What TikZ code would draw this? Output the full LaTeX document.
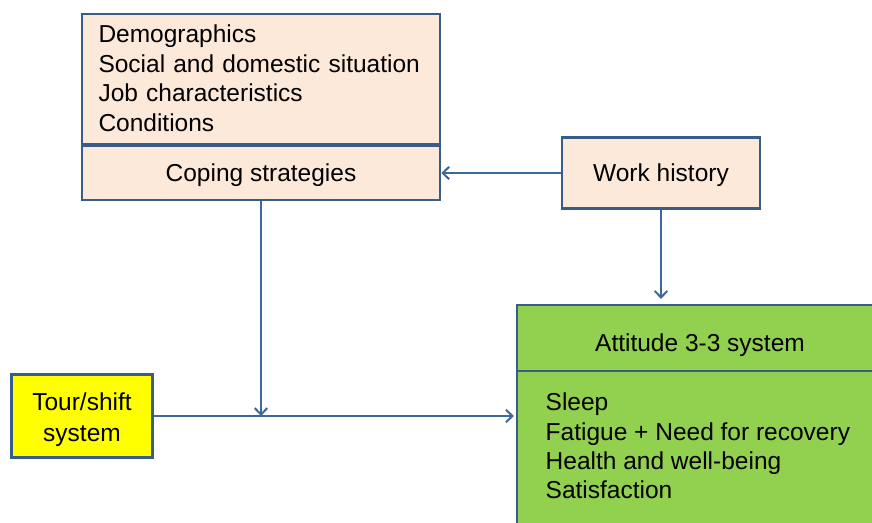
\documentclass[tikz,border=0pt]{standalone}
\usepackage{fontspec}
\setmainfont{Liberation Sans}
\usetikzlibrary{arrows.meta}
\definecolor{boxblue}{HTML}{385D8A}
\definecolor{lineblue}{HTML}{3C689E}
\definecolor{peach}{HTML}{FDE9D9}
\definecolor{attgreen}{HTML}{92D050}
\definecolor{touryellow}{HTML}{FFFF00}
\newcommand\bigfs{\fontsize{24.5}{29.6}\selectfont}
\newcommand\tourfs{\fontsize{24.5}{30.3}\selectfont}
\newcommand\listfs{\fontsize{24.5}{29.2}\selectfont}
\tikzset{
  box/.style={draw=boxblue, line width=2.5pt, fill=peach, inner sep=0pt, font=\bigfs},
  greenbox/.style={draw=boxblue, line width=2.2pt, fill=attgreen, inner sep=0pt, font=\bigfs},
  conn/.style={draw=lineblue, line width=2pt, -{Straight Barb[length=6.5pt,width=12.5pt]}},
}
\begin{document}
\begin{tikzpicture}[x=1pt, y=-1pt]
\clip (0,0) rectangle (872,522);
\fill[white] (0,0) rectangle (872,522);
% top boxes
\node[box, minimum width=358pt, minimum height=130pt, text width=325pt,
      inner xsep=16.5pt, align=left] (demo) at (261,79)
  {\rule{0pt}{20pt}Demographics\\Social and domestic situation\\Job characteristics\\Conditions\rule[-4pt]{0pt}{4pt}};
\node[box, minimum width=358pt, minimum height=54.5pt, text height=17.5pt, text depth=0pt]
  (cope) at (261,172.75) {Coping strategies};
\node[box, minimum width=198pt, minimum height=71pt, text height=17.6pt, text depth=0pt]
  (wh) at (661,173) {Work history};
% tour/shift
\node[box, fill=touryellow, minimum width=140.6pt, minimum height=83.4pt, align=center, font=\tourfs]
  (tour) at (82,416) {\rule{0pt}{26pt}Tour/shift\\system\rule[-6.3pt]{0pt}{6.3pt}};
% green box
\node[greenbox, minimum width=366pt, minimum height=189pt] (res) at (700,465.5) {};
\node[greenbox, minimum width=366pt, minimum height=66pt, text height=26.5pt, text depth=0pt]
  (att) at (700,338) {Attitude 3-3 system};
\node[anchor=north west, inner sep=0pt, align=left, font=\listfs] (reslist) at (545.5,390.7)
  {\rule{0pt}{20pt}Sleep\\Fatigue + Need for recovery\\Health and well-being\\Satisfaction};
% connectors
\coordinate (j) at (cope.south |- tour.east);
\draw[conn] (wh.west) -- (wh.west -| cope.east);
\draw[conn, shorten >=5pt] (wh.south) -- (wh.south |- att.north);
\draw[conn] (cope.south) -- (j);
\draw[conn, shorten >=2pt] (tour.east) -- (tour.east -| res.west);
\end{tikzpicture}
\end{document}
